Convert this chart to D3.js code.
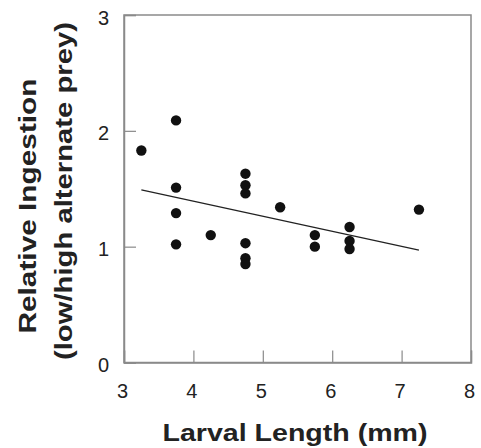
<!DOCTYPE html>
<html>
<head>
<meta charset="utf-8">
<script src="https://cdn.jsdelivr.net/npm/d3@7"></script>
<style>
  body { margin: 0; background: #fff; }
  svg { display: block; font-family: "Liberation Sans", Arial, sans-serif; }
</style>
</head>
<body>
<svg width="481" height="448"></svg>
<script>
// larval length (mm) and relative ingestion
var lengths   = [3.25, 3.75, 3.75, 3.75, 3.75, 4.25, 4.75, 4.75, 4.75, 4.75, 4.75, 4.75, 5.25, 5.75, 5.75, 6.25, 6.25, 6.25, 7.25];
var ingestion = [1.83, 2.09, 1.51, 1.29, 1.02, 1.10, 1.63, 1.53, 1.46, 1.03, 0.90, 0.85, 1.34, 1.10, 1.00, 1.17, 1.05, 0.98, 1.32];
// fitted line end points
var fitX = [3.25, 7.25];
var fitY = [1.49, 0.97];
var xTicks = [3, 4, 5, 6, 7, 8];
var yTicks = [0, 1, 2, 3];

var svg = d3.select("svg");

var x = d3.scaleLinear().domain([3, 8]).range([124, 471]);
var y = d3.scaleLinear().domain([0, 3]).range([362.5, 15]);

var frame = "#8a8a8a";

// frame (top and right)
svg.append("rect")
    .attr("x", x(3)).attr("y", y(3))
    .attr("width", x(8) - x(3)).attr("height", y(0) - y(3))
    .attr("fill", "none")
    .attr("stroke", frame)
    .attr("stroke-width", 1.5);

// axes with inward ticks
var xAxis = svg.append("g")
    .attr("transform", "translate(0," + y(0) + ")")
    .call(d3.axisBottom(x).tickValues(xTicks).tickSize(-12).tickPadding(21).tickFormat(d3.format("d")));

var yAxis = svg.append("g")
    .attr("transform", "translate(" + x(3) + ",0)")
    .call(d3.axisLeft(y).tickValues(yTicks).tickSize(-12).tickPadding(15).tickFormat(d3.format("d")));

[xAxis, yAxis].forEach(function(g) {
    g.select(".domain").attr("stroke", frame).attr("stroke-width", 1.5);
    g.selectAll(".tick line").attr("stroke", frame).attr("stroke-width", 1.2);
    g.selectAll(".tick text")
        .attr("fill", "#222")
        .style("font-size", "20px");
});
xAxis.selectAll(".tick text").attr("dx", "-2");
yAxis.selectAll(".tick text").attr("dy", "0.45em");

// regression line
svg.append("line")
    .attr("x1", x(fitX[0])).attr("y1", y(fitY[0]))
    .attr("x2", x(fitX[1])).attr("y2", y(fitY[1]))
    .attr("stroke", "#222")
    .attr("stroke-width", 1.2);

// points
svg.selectAll("circle.pt")
    .data(d3.range(lengths.length))
    .enter().append("circle")
    .attr("class", "pt")
    .attr("cx", function(i) { return x(lengths[i]); })
    .attr("cy", function(i) { return y(ingestion[i]); })
    .attr("r", 5.2)
    .attr("fill", "#111");

// axis titles
svg.append("text")
    .attr("x", 295).attr("y", 441)
    .attr("text-anchor", "middle")
    .attr("textLength", 265)
    .attr("lengthAdjust", "spacingAndGlyphs")
    .style("font-size", "24px")
    .style("font-weight", "bold")
    .attr("fill", "#222")
    .text("Larval Length (mm)");

svg.append("text")
    .attr("transform", "translate(36,206) rotate(-90)")
    .attr("text-anchor", "middle")
    .attr("textLength", 255)
    .attr("lengthAdjust", "spacingAndGlyphs")
    .style("font-size", "24px")
    .style("font-weight", "bold")
    .attr("fill", "#222")
    .text("Relative Ingestion");

svg.append("text")
    .attr("transform", "translate(72,191) rotate(-90)")
    .attr("text-anchor", "middle")
    .attr("textLength", 338)
    .attr("lengthAdjust", "spacingAndGlyphs")
    .style("font-size", "24px")
    .style("font-weight", "bold")
    .attr("fill", "#222")
    .text("(low/high alternate prey)");
</script>
</body>
</html>
